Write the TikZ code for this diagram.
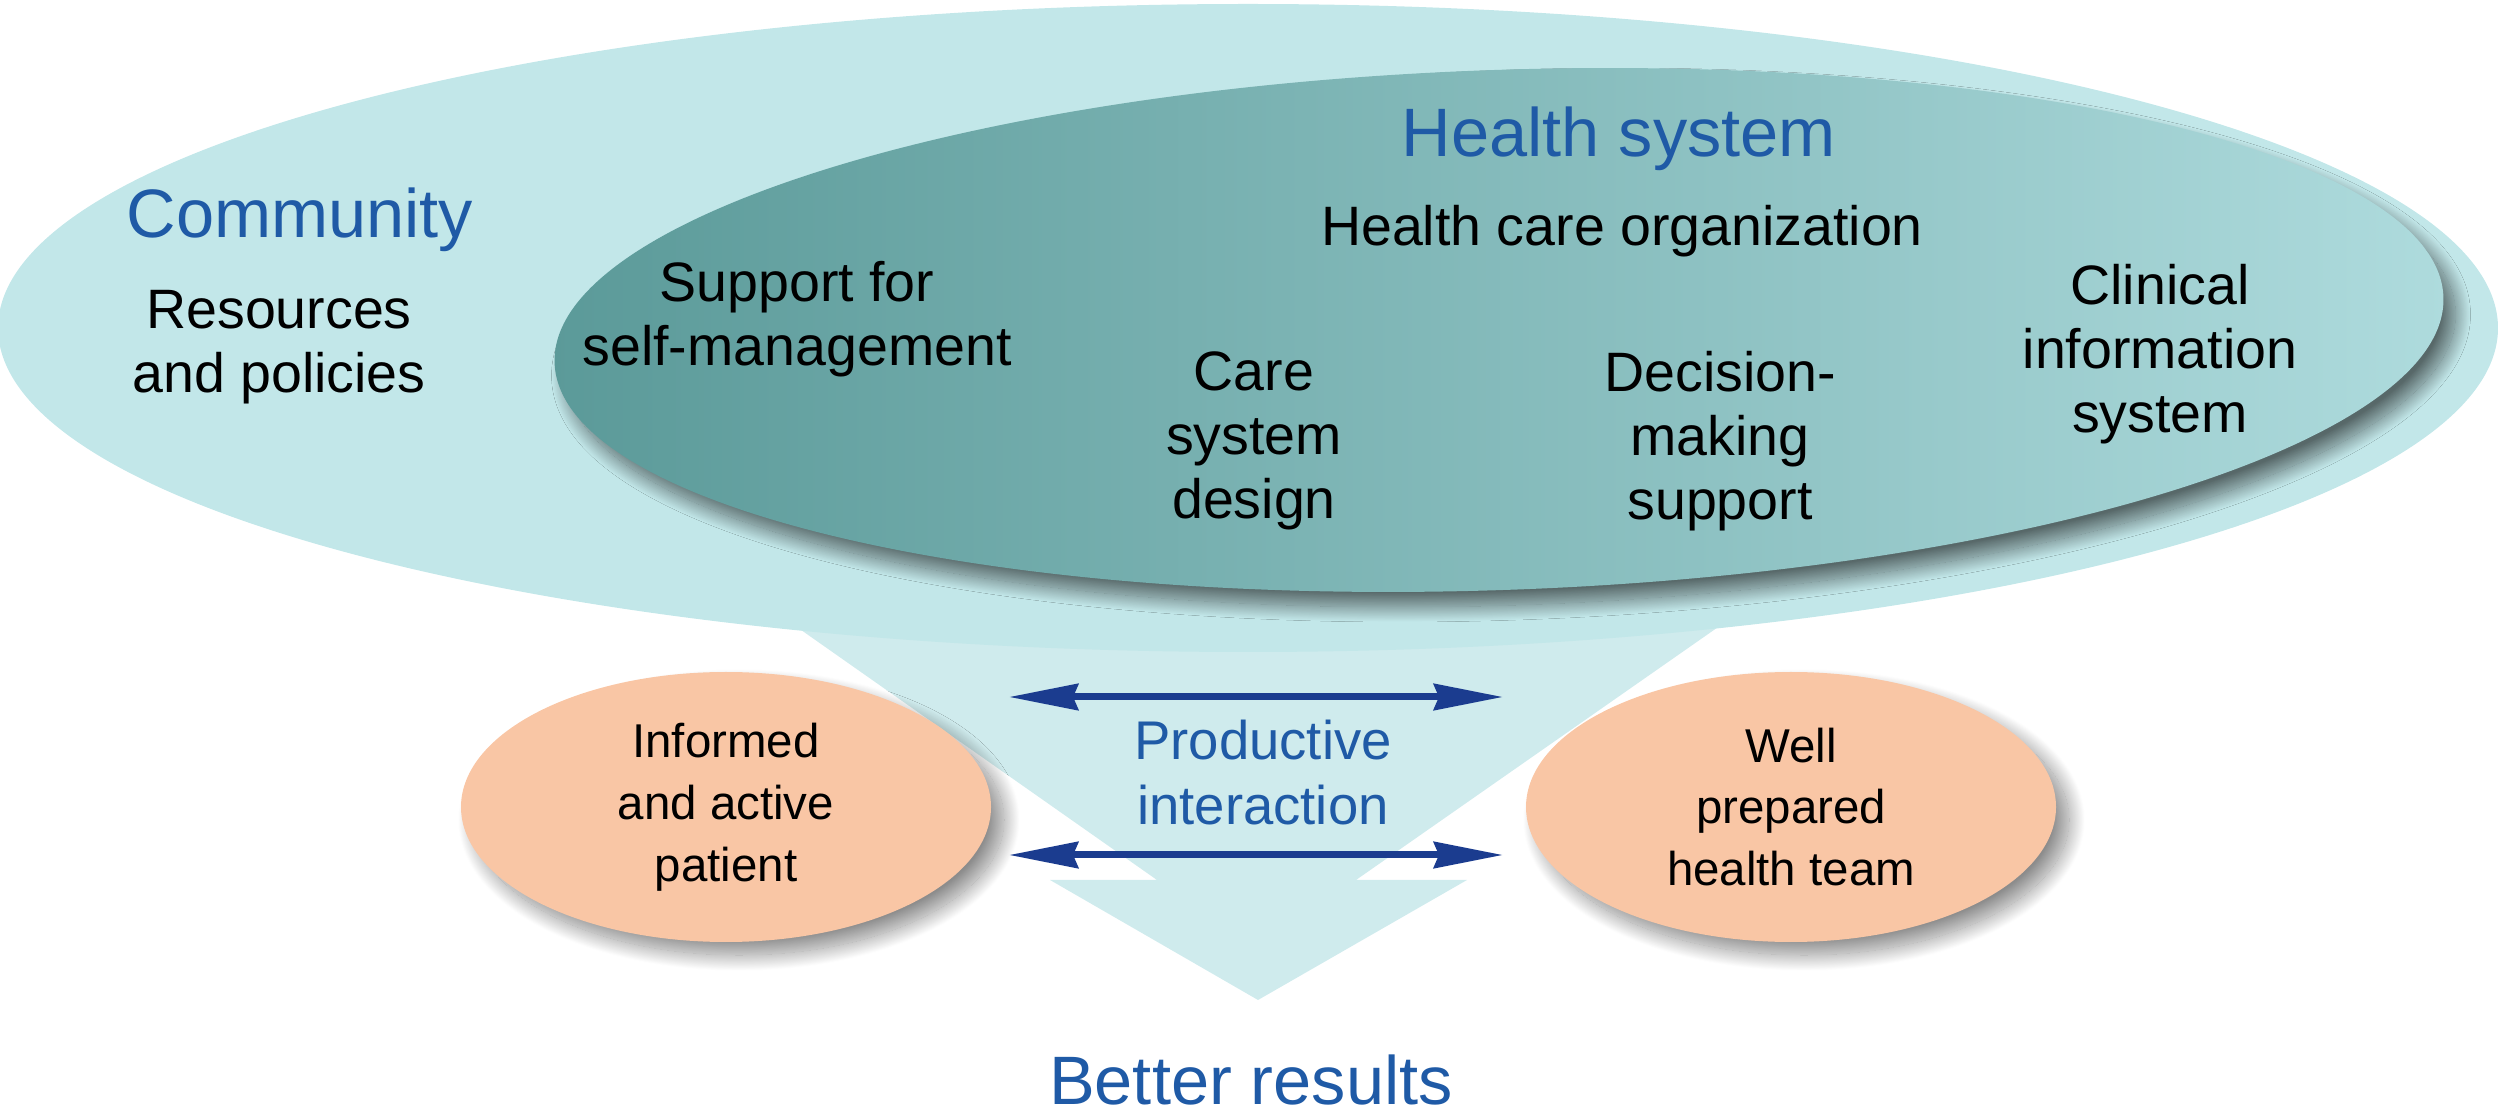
\documentclass[tikz,border=0pt]{standalone}
\usepackage{fontspec}
\setmainfont{Liberation Sans}
\usetikzlibrary{shapes.geometric, arrows.meta, shadows.blur}
\definecolor{outerc}{HTML}{C2E7E9}
\definecolor{funnelc}{HTML}{CFEBED}
\definecolor{innerL}{HTML}{5B9A99}
\definecolor{innerR}{HTML}{AEDBDD}
\definecolor{peach}{HTML}{F9C6A5}
\definecolor{tblue}{HTML}{1F5AA6}
\definecolor{arrc}{HTML}{1B3C8F}
\begin{document}
\begin{tikzpicture}[x=0.1mm, y=-0.1mm,
  title/.style={text=tblue, font=\fontsize{19.5}{22}\selectfont, align=center, inner sep=0},
  body/.style={text=black, font=\fontsize{15.8}{18.3}\selectfont, align=center, inner sep=0},
  actor/.style={ellipse, fill=peach, minimum width=53mm, minimum height=27mm, inner sep=0,
    align=center, font=\fontsize{13.5}{17.6}\selectfont,
    blur shadow={shadow xshift=1.3mm, shadow yshift=-1.3mm, shadow blur radius=1.6mm, shadow blur steps=40, shadow opacity=45}},
  link/.style={draw=arrc, line width=0.7mm, {Stealth[length=6.9mm,width=2.6mm,inset=0.5mm]}-{Stealth[length=6.9mm,width=2.6mm,inset=0.5mm]}}
]
\useasboundingbox (0,0) rectangle (2498,1120);
% funnel / arrow towards results
\fill[funnelc] (616,500) -- (1157,880) -- (1050,880) -- (1258,1000) -- (1467,880) -- (1356,880) -- (1900,500) -- cycle;
% community ellipse
\node[ellipse, fill=outerc, minimum width=250mm, minimum height=64.8mm, inner sep=0] (community) at (1248,328) {};
% health system ellipse
\node[ellipse, minimum width=189mm, minimum height=52mm, inner sep=0, rotate=2,
  left color=innerL, right color=innerR,
  blur shadow={shadow xshift=1.2mm, shadow yshift=-1.5mm, shadow blur radius=1.5mm, shadow blur steps=40, shadow opacity=55}] (health) at (1499,330) {};
% texts
\node[title] (commT) at (300,220) {Community};
\node[body] (commB) at (279,347) {Resources\\and policies};
\node[title] (hsT) at (1619,139) {Health system};
\node[body] (hco) at (1622,231) {Health care organization};
\node[body] (sm) at (797,319) {Support for\\self-management};
\node[body] (csd) at (1254,441) {Care\\system\\design};
\node[body] (dms) at (1720,441) {Decision-\\making\\support};
\node[body] (cis) at (2160,354) {Clinical\\information\\system};
% actors
\node[actor] (pat) at (726,807) {Informed\\and active\\patient};
\node[actor] (team) at (1791,807) {Well\\prepared\\health team};
\node[text=tblue, font=\fontsize{15.5}{18.5}\selectfont, align=center, inner sep=0] (pi) at (1263,773) {Productive\\interaction};
\node[title] (res) at (1251,1080) {Better results};
% interaction arrows
\coordinate (a1) at (1009,697);
\coordinate (b1) at (1503,697);
\coordinate (a2) at (1009,855);
\coordinate (b2) at (1503,855);
\draw[link] (a1) -- (b1);
\draw[link] (a2) -- (b2);
\end{tikzpicture}
\end{document}
